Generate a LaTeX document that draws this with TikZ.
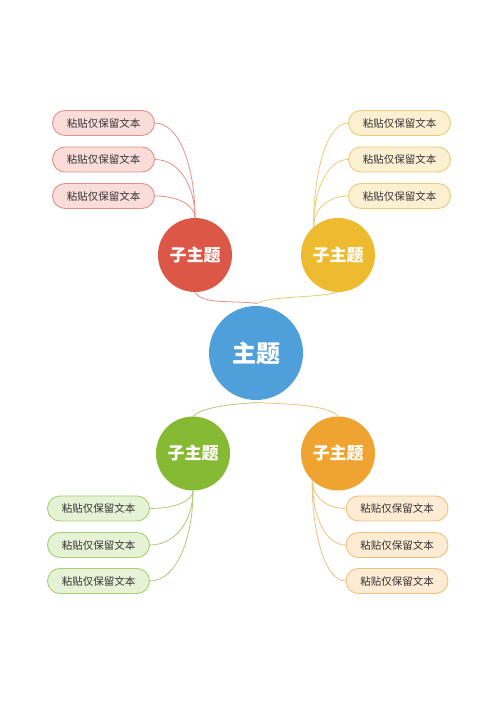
\documentclass[tikz,border=0pt]{standalone}
\usepackage{fontspec}
\usetikzlibrary{calc}
\setmainfont{Noto Sans CJK SC}
\definecolor{mainblue}{HTML}{4E9FDA}
\definecolor{cred}{HTML}{DD5746}
\definecolor{cyellow}{HTML}{EEBA2F}
\definecolor{cgreen}{HTML}{86BA33}
\definecolor{corange}{HTML}{EFA431}
\definecolor{lred}{HTML}{FADCD8}
\definecolor{lyellow}{HTML}{FCF0D3}
\definecolor{lgreen}{HTML}{E6F2D5}
\definecolor{lorange}{HTML}{FDEBD3}
\definecolor{bred}{HTML}{E5918A}
\definecolor{byellow}{HTML}{EDCB73}
\definecolor{bgreen}{HTML}{A8CF73}
\definecolor{borange}{HTML}{F1C07C}
\definecolor{txt}{HTML}{333333}
\begin{document}
\begin{tikzpicture}[x=1pt,y=1pt,
  topic/.style={circle,fill=mainblue,minimum size=94pt,inner sep=0pt,text=white,font=\bfseries\fontsize{24}{26}\selectfont},
  sub/.style={circle,fill=#1,minimum size=74pt,inner sep=0pt,text=white,font=\bfseries\fontsize{17}{19}\selectfont},
  leaf/.style={draw=b#1,fill=l#1,line width=0.9pt,rounded corners=12.5pt,minimum width=102pt,minimum height=25pt,inner sep=0pt,text=txt,font=\fontsize{10.5}{12}\selectfont},
  link/.style={draw=#1,line width=0.8pt}
]
\useasboundingbox[fill=white] (0,0) rectangle (500,706);
% main
\node[topic] (m) at (256,353) {主题};
\coordinate (mt) at (257,402.5);
\coordinate (mb) at (257,303.5);
% subtopics
\node[sub=cred] (r) at (195,451) {子主题};
\node[sub=cyellow] (y) at (338,451) {子主题};
\node[sub=cgreen] (g) at (193,252.5) {子主题};
\node[sub=corange] (o) at (338,252.5) {子主题};
% connection points on subtopics
\coordinate (rs) at (r.north);
\coordinate (ys) at (y.131);
\coordinate (gs) at (g.south);
\coordinate (os) at (o.-134);
% leaves
\node[leaf=red] (r1) at (103.5,583) {粘贴仅保留文本};
\node[leaf=red] (r2) at (103.5,546.5) {粘贴仅保留文本};
\node[leaf=red] (r3) at (103.5,510) {粘贴仅保留文本};
\node[leaf=yellow] (y1) at (399.5,583) {粘贴仅保留文本};
\node[leaf=yellow] (y2) at (399.5,546.5) {粘贴仅保留文本};
\node[leaf=yellow] (y3) at (399.5,510) {粘贴仅保留文本};
\node[leaf=green] (g1) at (98.5,197.5) {粘贴仅保留文本};
\node[leaf=green] (g2) at (98.5,161) {粘贴仅保留文本};
\node[leaf=green] (g3) at (98.5,125) {粘贴仅保留文本};
\node[leaf=orange] (o1) at (397,197.5) {粘贴仅保留文本};
\node[leaf=orange] (o2) at (397,161) {粘贴仅保留文本};
\node[leaf=orange] (o3) at (397,125) {粘贴仅保留文本};
% main links
\draw[link=bred] (r.south) .. controls (203,401) and (232,406) .. (mt);
\draw[link=byellow] (mt) .. controls (266,410) and (318,408) .. (y.south);
\draw[link=bgreen] (mb) .. controls (236,302) and (204,300) .. (g.north);
\draw[link=borange] (mb) .. controls (280,302) and (328,302) .. (o.north);
% leaf links
\foreach \s/\e/\c in {rs/r1.east/bred,rs/r2.east/bred,rs/r3.east/bred,
                      ys/y1.west/byellow,ys/y2.west/byellow,ys/y3.west/byellow,
                      gs/g1.east/bgreen,gs/g2.east/bgreen,gs/g3.east/bgreen,
                      os/o1.west/borange,os/o2.west/borange,os/o3.west/borange} {
  \draw[link=\c] (\s) .. controls ($(\s)!0.55!(\s|-\e)$) and ($(\e)!0.6!(\e-|\s)$) .. (\e);
}
\end{tikzpicture}
\end{document}
